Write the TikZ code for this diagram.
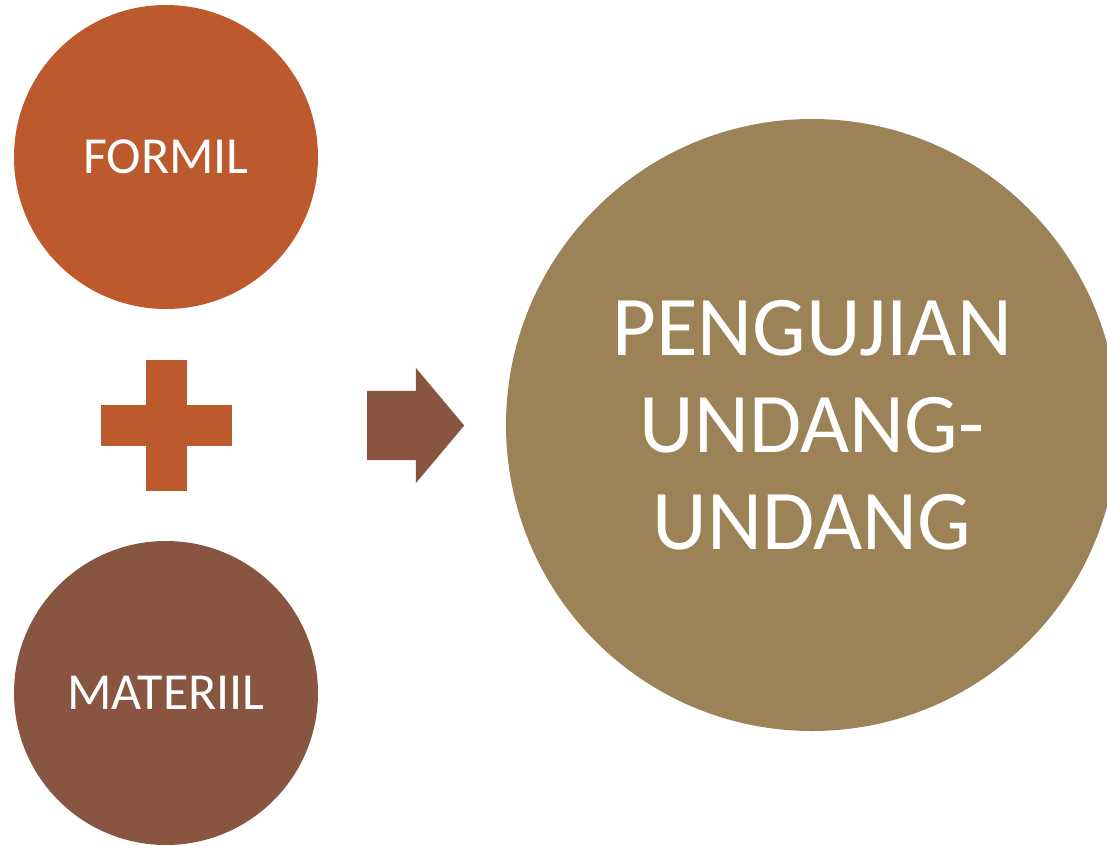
\documentclass[tikz,border=0pt]{standalone}
\usepackage{fontspec}
\setmainfont{Carlito}
\usepackage{tikz}
\usetikzlibrary{positioning, calc, shapes.arrows}

\definecolor{formilc}{HTML}{BC5A2D}
\definecolor{materiilc}{HTML}{875540}
\definecolor{ujic}{HTML}{9C8257}

\begin{document}
\begin{tikzpicture}
[x=1pt, y=-1pt, node distance=536pt, on grid,
                    every node/.style={inner sep=0pt, text=white},
                    circ/.style={circle, minimum size=304pt,
                    font=\fontsize{52}{60}\selectfont},
                    bar/.style={rectangle, fill=formilc}]
\useasboundingbox (0,0) rectangle (1107,845);
\clip (0,0) rectangle (1107,845);

\node[circ, fill=formilc] (formil) at (166,157) {FORMIL};
\node[circ, fill=materiilc, below=of formil] (materiil) {MATERIIL};
\node[circle, fill=ujic, minimum size=612pt, align=center,
      font=\fontsize{85}{97}\selectfont] (uji) at (812,425)
      {PENGUJIAN\\UNDANG-\\UNDANG};

% plus sign between the two circles
\coordinate (plus) at ($(formil)!0.5!(materiil)$);
\node[bar, minimum width=41pt, minimum height=131pt] (plusv) at (plus) {};
\node[bar, minimum width=131pt, minimum height=41pt] (plush) at (plus) {};

% block arrow
\node[single arrow, fill=materiilc, inner xsep=0pt, inner ysep=34.5pt,
      minimum height=97pt, minimum width=115pt,
      single arrow head extend=23pt, single arrow head indent=0pt,
      single arrow tip angle=100, anchor=tail] (go) at (367,425.5) {};
\end{tikzpicture}
\end{document}
